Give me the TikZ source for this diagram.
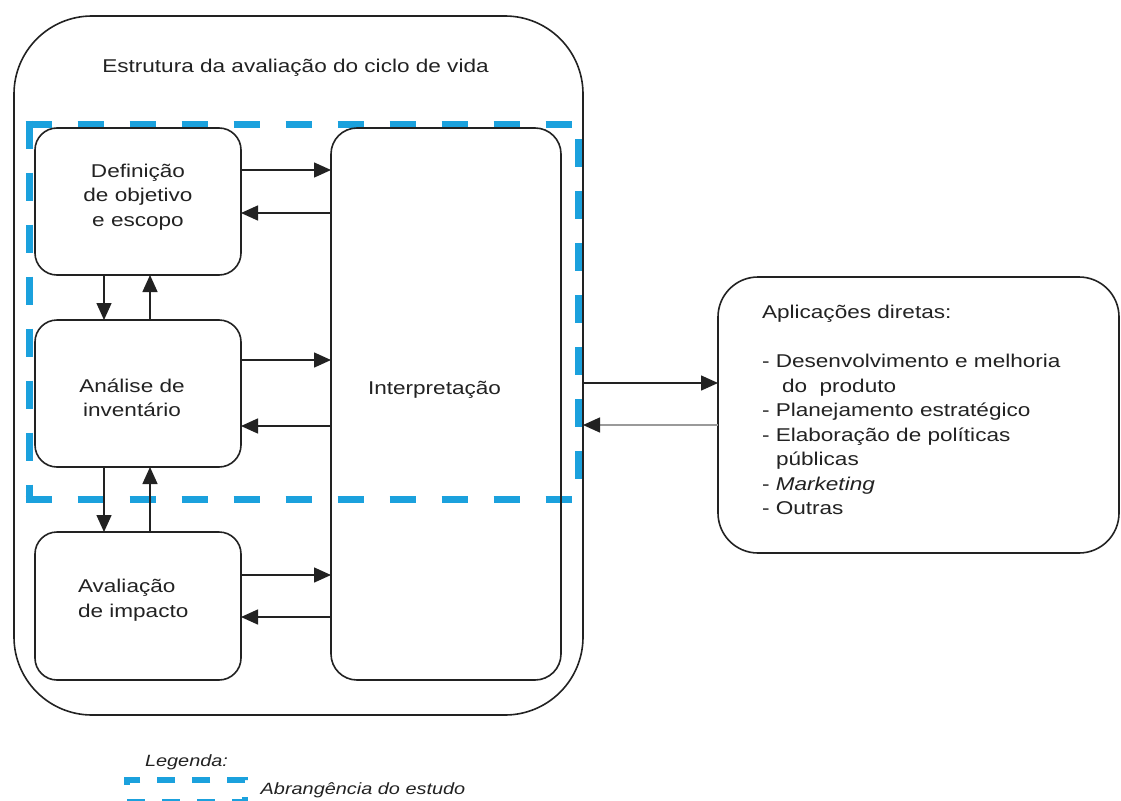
\documentclass[tikz,border=0pt]{standalone}
\usepackage{fontspec}
\setmainfont{Liberation Sans}[FakeStretch=1.22]
\usetikzlibrary{arrows.meta}
\definecolor{scopeblue}{HTML}{1BA1DD}
\definecolor{ink}{HTML}{222222}
\definecolor{greyline}{HTML}{9A9A9A}
\begin{document}
\begin{tikzpicture}[x=1pt,y=-1pt,
  every node/.style={inner sep=0pt,outer sep=0pt},
  box/.style={draw=ink,line width=1.6pt,rounded corners=22pt},
  txt/.style={font=\fontsize{18.5}{24.5}\selectfont,text=ink},
  legtxt/.style={font=\fontsize{16.3}{20}\selectfont\itshape,text=ink},
  arr/.style={draw=ink,line width=1.5pt,-{Triangle[length=17pt,width=15pt]}},
  scopeh/.style={draw=scopeblue,line width=7pt,dash pattern=on 26pt off 26pt},
  scopev/.style={draw=scopeblue,line width=7pt,dash pattern=on 28pt off 24pt}]
\useasboundingbox (0,0) rectangle (1121,800);
\fill[white] (0,0) rectangle (1121,800);

% scope of the study (dashed frame, drawn side by side)
\coordinate (snw) at (25.5,124);
\coordinate (sne) at (572,124);
\coordinate (ssw) at (25.5,499);
\coordinate (sse) at (572,499);
\coordinate (lt) at (29,120.5);
\coordinate (lb) at (29,502.5);
\coordinate (rt) at (578,124);
\coordinate (rb) at (578,499);
\draw[scopeh] (snw) -- (sne);
\draw[scopeh] (ssw) -- (sse);
\draw[scopev] (lt) -- (lb);
\draw[scopev,dash phase=37pt] (rt) -- (rb);

% outer frame
\node[box,rounded corners=78pt,minimum width=569pt,minimum height=699pt] (frame) at (298.5,365.5) {};
\node[txt] (title) at (295.5,68) {Estrutura da avaliação do ciclo de vida};

% boxes
\node[box,minimum width=206pt,minimum height=147pt] (def) at (138,201.5) {};
\node[box,minimum width=206pt,minimum height=147pt] (ana) at (138,393.5) {};
\node[box,minimum width=206pt,minimum height=148pt] (ava) at (138,606) {};
\node[box,rounded corners=26pt,minimum width=230pt,minimum height=552pt] (int) at (446,404) {};
\node[box,rounded corners=40pt,minimum width=401pt,minimum height=276pt] (apps) at (918.5,415) {};

% texts
\node[txt,align=center] (deft) at (138,197) {Definição\\de objetivo\\e escopo};
\node[txt,align=center] (anat) at (132,398) {Análise de\\inventário};
\node[txt,align=left,anchor=west] (avat) at (78,600) {Avaliação\\de impacto};
\node[txt] (intt) at (434.5,390) {Interpretação};
\node[txt,align=left,anchor=west] (appst) at (762,410) {Aplicações diretas:\\[24.5pt]
- Desenvolvimento e melhoria\\
\hspace*{20pt}do\ \ produto\\
- Planejamento estratégico\\
- Elaboração de políticas\\
\hspace*{14pt}públicas\\
- \textit{Marketing}\\
- Outras};

% coordinates for connector levels
\coordinate (h1) at (0,170);
\coordinate (h2) at (0,213);
\coordinate (h3) at (0,360);
\coordinate (h4) at (0,426);
\coordinate (h5) at (0,575);
\coordinate (h6) at (0,617);
\coordinate (h7) at (0,383);
\coordinate (h8) at (0,425);
\coordinate (vd) at (104,0);
\coordinate (vu) at (150,0);

% horizontal connectors
\draw[arr] (def.east |- h1) -- (int.west |- h1);
\draw[arr] (int.west |- h2) -- (def.east |- h2);
\draw[arr] (ana.east |- h3) -- (int.west |- h3);
\draw[arr] (int.west |- h4) -- (ana.east |- h4);
\draw[arr] (ava.east |- h5) -- (int.west |- h5);
\draw[arr] (int.west |- h6) -- (ava.east |- h6);

% vertical connectors
\draw[arr] (vd |- def.south) -- (vd |- ana.north);
\draw[arr] (vu |- ana.north) -- (vu |- def.south);
\draw[arr] (vd |- ana.south) -- (vd |- ava.north);
\draw[arr] (vu |- ava.north) -- (vu |- ana.south);

% to / from applications
\draw[arr] (frame.east |- h7) -- (apps.west |- h7);
\draw[draw=greyline,line width=1.5pt,-{Triangle[length=17pt,width=15pt,color=ink,fill=ink]}] (apps.west |- h8) -- (frame.east |- h8);

% legend
\node[legtxt] (legtitle) at (186.5,762) {Legenda:};
\node[draw=scopeblue,line width=6pt,dash pattern=on 18pt off 17pt,minimum width=118pt,minimum height=22pt] (legbox) at (186,791) {};
\node[legtxt] (legtext) at (363,790) {Abrangência do estudo};
\end{tikzpicture}
\end{document}
